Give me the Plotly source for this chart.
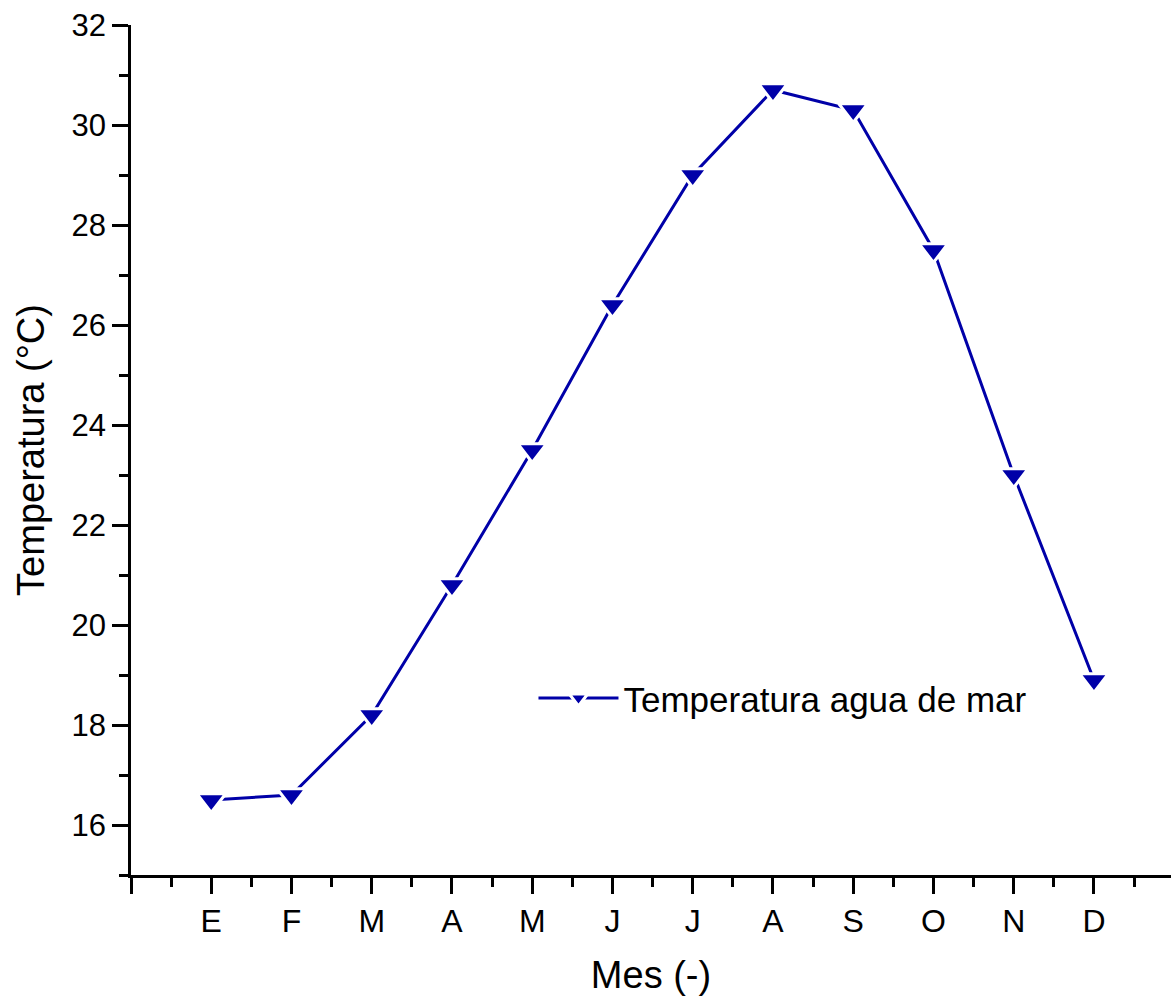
import plotly.graph_objects as go

months = ["E", "F", "M", "A", "M", "J", "J", "A", "S", "O", "N", "D"]
month_pos = [1, 2, 3, 4, 5, 6, 7, 8, 9, 10, 11, 12]
temperature = [16.5, 16.6, 18.2, 20.8, 23.5, 26.4, 29.0, 30.7, 30.3, 27.5, 23.0, 18.9]
series_name = "Temperatura agua de mar"
y_ticks = [16, 18, 20, 22, 24, 26, 28, 30, 32]

BLUE = "#0000A8"
FONT = "Liberation Sans, Arial, sans-serif"

fig = go.Figure()
fig.add_trace(go.Scatter(
    x=month_pos, y=temperature, mode="lines+markers", name=series_name,
    line=dict(color=BLUE, width=3),
    marker=dict(symbol="triangle-down", size=25, color=BLUE,
                line=dict(color="white", width=3)),
))

fig.update_layout(
    width=1171, height=998,
    margin=dict(l=131, r=0, t=25, b=123),
    paper_bgcolor="white", plot_bgcolor="white",
    font=dict(family=FONT, color="black"),
    showlegend=True,
    legend=dict(x=0.387, y=0.208, xanchor="left", yanchor="middle",
                font=dict(size=35, family=FONT), itemwidth=80,
                bgcolor="rgba(0,0,0,0)"),
    xaxis=dict(
        range=[0, 12.96], showgrid=False, zeroline=False,
        showline=True, linecolor="black", linewidth=2.5,
        tickmode="array", tickvals=[0] + month_pos, ticktext=[""] + months,
        ticks="outside", ticklen=16, tickwidth=2.5, tickcolor="black",
        tickfont=dict(size=32, family=FONT),
        minor=dict(tickvals=[p - 0.5 for p in month_pos] + [12.5],
                   ticks="outside", ticklen=9, tickwidth=2.5, tickcolor="black"),
        title=dict(text="Mes (-)", font=dict(size=38, family=FONT), standoff=24),
    ),
    yaxis=dict(
        range=[15, 32], showgrid=False, zeroline=False,
        showline=True, linecolor="black", linewidth=2.5,
        tickmode="array", tickvals=y_ticks,
        ticks="outside", ticklen=16, tickwidth=2.5, tickcolor="black",
        tickfont=dict(size=31, family=FONT),
        minor=dict(tickvals=[15, 17, 19, 21, 23, 25, 27, 29, 31],
                   ticks="outside", ticklen=9, tickwidth=2.5, tickcolor="black"),
        title=dict(text="Temperatura (°C)", font=dict(size=38, family=FONT), standoff=16),
    ),
)

fig.write_html("out.html")
